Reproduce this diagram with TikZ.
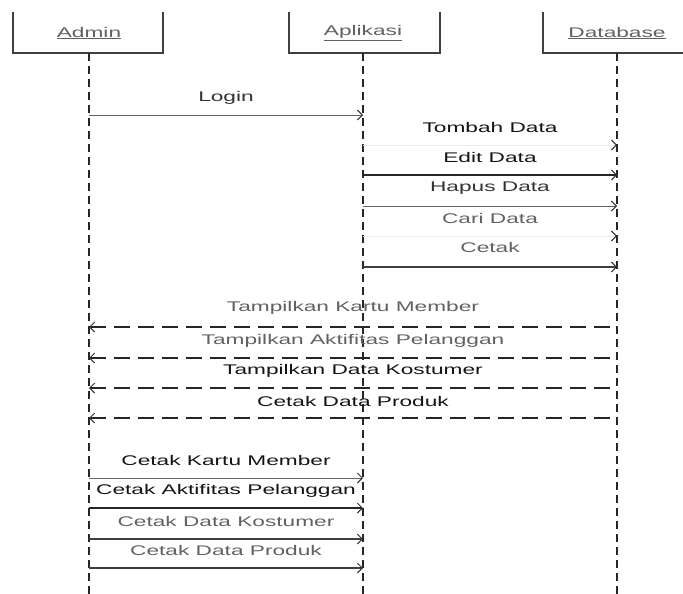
\documentclass[tikz,border=0pt]{standalone}
\usepackage{fontspec}
\setmainfont{Liberation Sans}
\newfontfamily\lblfont[FakeStretch=1.62]{Liberation Sans}
\usetikzlibrary{arrows.meta}
\begin{document}
\begin{tikzpicture}[x=1pt, y=-1pt,
  every node/.style={font=\lblfont\fontsize{14}{16}\selectfont, inner sep=0pt},
  headbox/.style={line width=1.2pt, draw=black!75},
  lifeline/.style={line width=1.3pt, draw=black!85, dash pattern=on 8pt off 5pt},
  msgtip/.style={-{Straight Barb[length=5pt, width=10pt, line width=1pt, color=black!80]}},
  call/.style={msgtip, line width=0.9pt, draw=black!60},
  callthick/.style={msgtip, line width=1.7pt, draw=black!85},
  callmid/.style={msgtip, line width=1.2pt, draw=black!75},
  callfaint/.style={msgtip, line width=0.6pt, draw=black!8},
  reply/.style={{Straight Barb[length=5pt, width=10pt, line width=1pt, color=black!80]}-,
    line width=1.4pt, draw=black!85, dash pattern=on 16pt off 8pt},
  lbl/.style={text=black!80},
  lbldark/.style={text=black!92},
  lbllight/.style={text=black!62},
]
\useasboundingbox (0,0) rectangle (683,594);

% object headers (open boxes)
\draw[headbox] (13,12) -- (13,53) -- (163,53) -- (163,12);
\draw[headbox] (289,12) -- (289,53) -- (440,53) -- (440,12);
\draw[headbox] (543,12) -- (543,53) -- (683,53);
\node[lbllight] (admin) at (89,33) {\underline{Admin}};
\node[lbllight] (app)   at (363,33) {\underline{Aplikasi}};
\node[lbllight] (db)    at (617,33) {\underline{Database}};

% lifelines
\coordinate (la) at (89,53);
\coordinate (lp) at (363,53);
\coordinate (ld) at (617,53);
\coordinate (la-end) at (89,594);
\coordinate (lp-end) at (363,594);
\coordinate (ld-end) at (617,594);
\draw[lifeline] (la) -- (la-end);
\draw[lifeline] (lp) -- (lp-end);
\draw[lifeline] (ld) -- (ld-end);

% Admin -> Aplikasi
\draw[call] (la |- 0,115) -- (lp |- 0,115)
  node[midway, yshift=17pt, lbl] (m1) {Login};

% Aplikasi -> Database
\draw[callfaint] (lp |- 0,145) -- (ld |- 0,145)
  node[midway, yshift=18pt, lbldark] (m2) {Tombah Data};
\draw[callthick] (lp |- 0,175) -- (ld |- 0,175)
  node[midway, yshift=18pt, lbldark] (m3) {Edit Data};
\draw[call] (lp |- 0,206) -- (ld |- 0,206)
  node[midway, yshift=18pt, lbl] (m4) {Hapus Data};
\draw[callfaint] (lp |- 0,236) -- (ld |- 0,236)
  node[midway, yshift=18pt, lbllight] (m5) {Cari Data};
\draw[callmid] (lp |- 0,267) -- (ld |- 0,267)
  node[midway, yshift=20pt, lbllight] (m6) {Cetak};

% Database -> Admin (replies)
\draw[reply] (la |- 0,327) -- (ld |- 0,327)
  node[midway, yshift=19pt, lbllight] (r1) {Tampilkan Kartu Member};
\draw[reply] (la |- 0,358) -- (ld |- 0,358)
  node[midway, yshift=17pt, lbllight] (r2) {Tampilkan Aktifitas Pelanggan};
\draw[reply] (la |- 0,388) -- (ld |- 0,388)
  node[midway, yshift=17pt, lbldark] (r3) {Tampilkan Data Kostumer};
\draw[reply] (la |- 0,418) -- (ld |- 0,418)
  node[midway, yshift=17pt, lbldark] (r4) {Cetak Data Produk};

% Admin -> Aplikasi (printing)
\draw[call] (la |- 0,478) -- (lp |- 0,478)
  node[midway, yshift=18pt, lbldark] (p1) {Cetak Kartu Member};
\draw[callthick] (la |- 0,508) -- (lp |- 0,508)
  node[midway, yshift=17pt, lbldark] (p2) {Cetak Aktifitas Pelanggan};
\draw[callmid] (la |- 0,539) -- (lp |- 0,539)
  node[midway, yshift=18pt, lbllight] (p3) {Cetak Data Kostumer};
\draw[callmid] (la |- 0,568) -- (lp |- 0,568)
  node[midway, yshift=18pt, lbllight] (p4) {Cetak Data Produk};
\end{tikzpicture}
\end{document}
